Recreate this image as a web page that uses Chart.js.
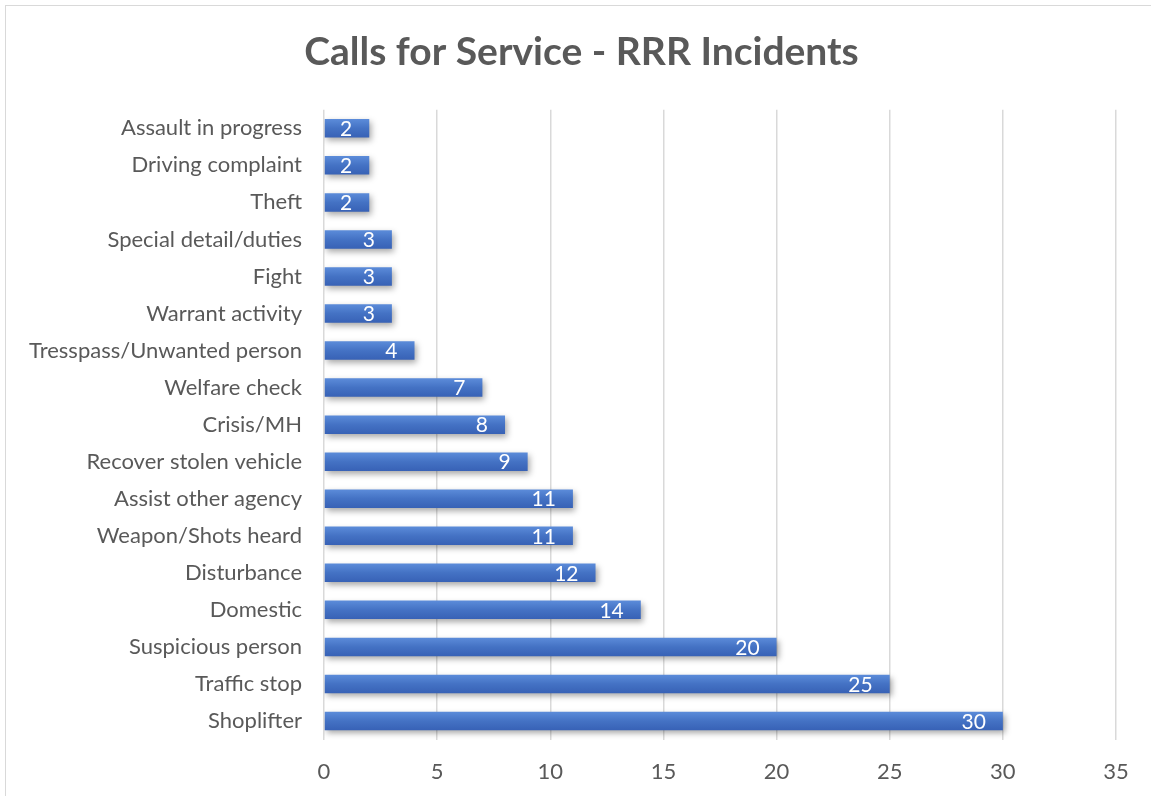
<!DOCTYPE html>
<html>
<head>
<meta charset="utf-8">
<script src="https://cdn.jsdelivr.net/npm/chart.js@4.4.1/dist/chart.umd.min.js"></script>
<style>
  html, body { margin:0; padding:0; background:#fff; overflow:hidden; }
  #frame { position:absolute; left:5px; top:5px; width:1200px; height:900px; border:1.5px solid #d9d9d9; box-sizing:border-box; }
  #wrap { position:absolute; left:0; top:0; width:1151px; height:796px; }
</style>
</head>
<body>
<div id="frame"></div>
<div id="wrap"><canvas id="c"></canvas></div>
<script>
const categories = [
  'Assault in progress', 'Driving complaint', 'Theft', 'Special detail/duties', 'Fight',
  'Warrant activity', 'Tresspass/Unwanted person', 'Welfare check', 'Crisis/MH',
  'Recover stolen vehicle', 'Assist other agency', 'Weapon/Shots heard', 'Disturbance',
  'Domestic', 'Suspicious person', 'Traffic stop', 'Shoplifter'
];
const counts = [2, 2, 2, 3, 3, 3, 4, 7, 8, 9, 11, 11, 12, 14, 20, 25, 30];
const xTicks = [0, 5, 10, 15, 20, 25, 30, 35];
const titleText = 'Calls for Service - RRR Incidents';

const FONT = 'Lato, "Open Sans", sans-serif';
const GREY = '#595959';

// gradient per bar, lighter on top like Excel's default
const barFill = (c) => {
  const chart = c.chart;
  const y = chart.scales && chart.scales.y;
  if (!chart.chartArea || !y || c.dataIndex === undefined) return '#4472c4';
  const mid = y.getPixelForValue(c.dataIndex);
  const g = chart.ctx.createLinearGradient(0, mid - 9, 0, mid + 9);
  g.addColorStop(0, '#5b8bd9');
  g.addColorStop(0.5, '#4472c4');
  g.addColorStop(1, '#3862b6');
  return g;
};

const barShadow = {
  id: 'barShadow',
  beforeDatasetDraw(chart) {
    const ctx = chart.ctx;
    ctx.save();
    ctx.shadowColor = 'rgba(0,0,0,0.35)';
    ctx.shadowBlur = 6;
    ctx.shadowOffsetX = 2;
    ctx.shadowOffsetY = 3;
  },
  afterDatasetDraw(chart) { chart.ctx.restore(); }
};

const insideLabels = {
  id: 'insideLabels',
  afterDatasetsDraw(chart) {
    const ctx = chart.ctx;
    const meta = chart.getDatasetMeta(0);
    ctx.save();
    ctx.font = '21px ' + FONT;
    ctx.fillStyle = '#ffffff';
    ctx.textAlign = 'right';
    ctx.textBaseline = 'middle';
    meta.data.forEach((bar, i) => {
      ctx.fillText(String(counts[i]), bar.x - 17, bar.y + 1);
    });
    ctx.restore();
  }
};

// the built-in title reserves the space; this draws it centred on the whole frame
const frameTitle = {
  id: 'frameTitle',
  afterDraw(chart) {
    const ctx = chart.ctx;
    ctx.save();
    ctx.font = 'bold 39px ' + FONT;
    ctx.fillStyle = GREY;
    ctx.textAlign = 'center';
    ctx.textBaseline = 'middle';
    ctx.fillText(titleText, chart.width / 2 + 6, 29 + 39 * 1.2 / 2);
    ctx.restore();
  }
};

new Chart(document.getElementById('c'), {
  type: 'bar',
  data: {
    labels: categories,
    datasets: [{
      data: counts,
      backgroundColor: barFill,
      borderWidth: 0,
      categoryPercentage: 1,
      barPercentage: 0.5
    }]
  },
  options: {
    indexAxis: 'y',
    responsive: true,
    maintainAspectRatio: false,
    animation: false,
    layout: { padding: { left: 0, right: 35, top: 0, bottom: 0 } },
    plugins: {
      legend: { display: false },
      tooltip: { enabled: false },
      title: {
        display: true,
        text: titleText,
        color: 'rgba(0,0,0,0)',
        font: { family: FONT, size: 39, weight: 'bold' },
        padding: { top: 29, bottom: 34 }
      }
    },
    scales: {
      x: {
        min: 0, max: 35,
        afterBuildTicks: (s) => { s.ticks = xTicks.map(v => ({ value: v })); },
        afterFit: (s) => { s.height = 56.5; },
        grid: { color: '#d9d9d9', lineWidth: 1.5, drawTicks: false },
        border: { display: false },
        ticks: { color: GREY, font: { family: FONT, size: 22 }, padding: 19 }
      },
      y: {
        afterFit: (s) => { s.width = 324; },
        grid: { display: false, drawTicks: false },
        border: { display: false },
        ticks: { color: GREY, font: { family: FONT, size: 22 }, padding: 22, autoSkip: false }
      }
    }
  },
  plugins: [barShadow, insideLabels, frameTitle]
});
</script>
</body>
</html>
